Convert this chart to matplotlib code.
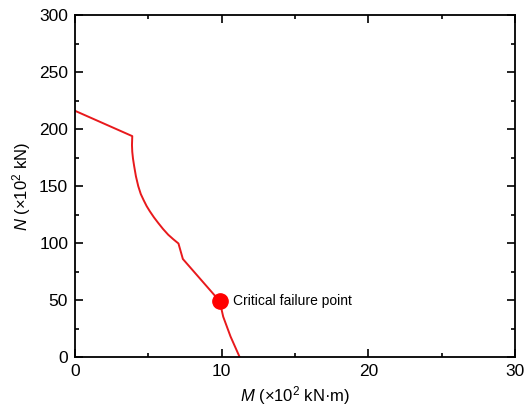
import matplotlib
matplotlib.use("Agg")
import matplotlib.pyplot as plt
from matplotlib.ticker import MultipleLocator

plt.rcParams['font.family'] = ['Liberation Sans', 'DejaVu Sans']
plt.rcParams['mathtext.fontset'] = 'custom'
plt.rcParams['mathtext.it'] = 'Liberation Sans:italic'
plt.rcParams['mathtext.rm'] = 'Liberation Sans'

# interaction curve (M in 1e2 kN.m, N in 1e2 kN)
M = [0, 3.9, 3.88, 3.9, 3.95, 4.03, 4.15, 4.31, 4.48, 4.68, 4.88, 5.10, 5.38, 5.67, 6.0, 6.35, 6.7, 7.05, 7.35, 9.86, 10.1, 10.6, 11.22]
N = [216, 193.8, 186, 180, 174, 167.4, 158.5, 149.8, 143, 137.5, 132.4, 127.8, 122.5, 117.6, 112.3, 107.3, 103.3, 99.6, 86, 49, 35.4, 18, 0]

# critical failure point
Mc = 9.86
Nc = 49

fig = plt.figure(figsize=(5.25, 4.08), dpi=100)
ax = fig.add_axes([0.143, 0.125, 0.838, 0.838])

ax.plot(M, N, color='#e8191c', lw=1.4)
ax.plot(Mc, Nc, 'o', color='#ff0000', ms=11, zorder=3)
ax.text(Mc + 0.9, Nc, 'Critical failure point', fontsize=10, va='center', ha='left')

ax.set_xlim(0, 30)
ax.set_ylim(0, 300)
ax.xaxis.set_major_locator(MultipleLocator(10))
ax.xaxis.set_minor_locator(MultipleLocator(5))
ax.yaxis.set_major_locator(MultipleLocator(50))
ax.yaxis.set_minor_locator(MultipleLocator(25))
ax.tick_params(which='both', direction='in', top=True, right=True, labelsize=12.5, width=1.2, pad=5)
ax.tick_params(which='major', length=6)
ax.tick_params(which='minor', length=3)
for s in ax.spines.values():
    s.set_linewidth(1.3)

ax.set_xlabel(r'$M$ (×10$^{2}$ kN·m)', fontsize=12, labelpad=4)
ax.set_ylabel(r'$N$ (×10$^{2}$ kN)', fontsize=12, labelpad=4)

fig.savefig('out.png', dpi=100)
